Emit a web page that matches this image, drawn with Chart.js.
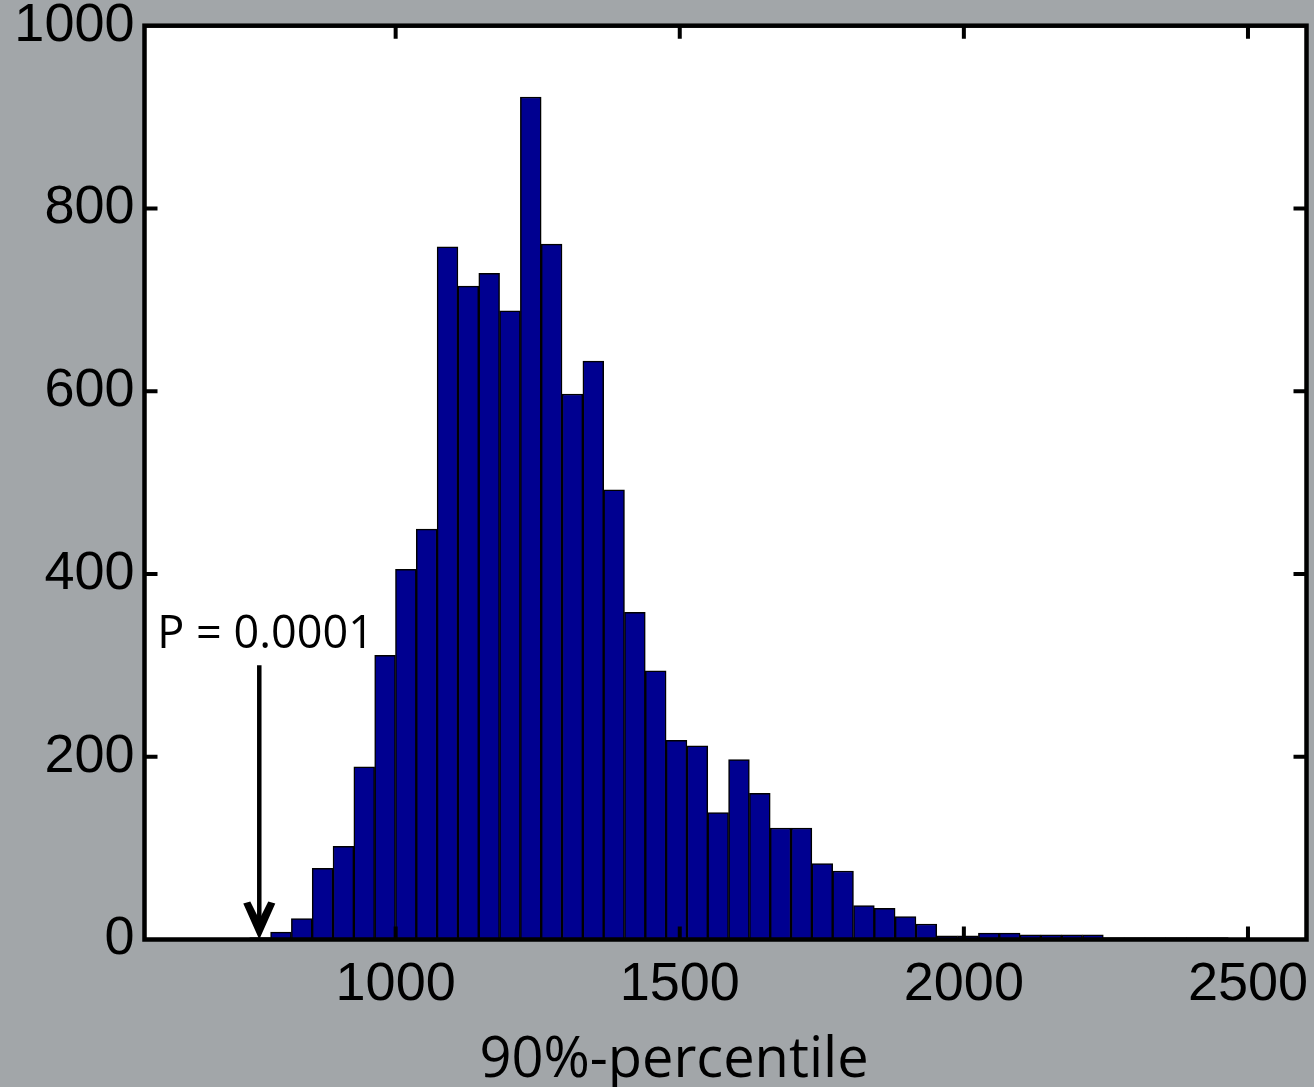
<!DOCTYPE html>
<html>
<head>
<meta charset="utf-8">
<script src="https://cdn.jsdelivr.net/npm/chart.js@4.4.0/dist/chart.umd.min.js"></script>
<style>
  html, body { margin: 0; padding: 0; background: #a2a6a9; overflow: hidden; }
  canvas { display: block; }
</style>
</head>
<body>
<canvas id="histChart" width="1314" height="1087"></canvas>
<script>
// Histogram bins: centre of each bin (90%-percentile) and its count
var binCenters = [651.6, 688.2, 724.9, 761.5, 798.2, 834.8, 871.4, 908.1, 944.7, 981.4,
                  1018.0, 1054.6, 1091.3, 1127.9, 1164.6, 1201.2, 1237.8, 1274.5, 1311.1, 1347.8,
                  1384.4, 1421.0, 1457.7, 1494.3, 1531.0, 1567.6, 1604.2, 1640.9, 1677.5, 1714.2,
                  1750.8, 1787.4, 1824.1, 1860.7, 1897.4, 1934.0, 1970.6, 2007.3, 2043.9, 2080.6,
                  2117.2, 2153.8, 2190.5, 2227.1, 2263.8, 2300.4, 2337.0, 2373.7, 2410.3, 2447.0];
var binCounts = [1, 0, 1, 2, 8, 23, 78, 102, 189, 311,
                 405, 449, 758, 715, 729, 688, 922, 761, 597, 633,
                 492, 358, 294, 218, 212, 139, 197, 160, 122, 122,
                 83, 75, 37, 34, 25, 17, 4, 4, 7, 7,
                 5, 5, 5, 5, 2, 2, 2, 2, 2, 2];

// Axes
var xTicks = [1000, 1500, 2000, 2500];
var yTicks = [0, 200, 400, 600, 800, 1000];
var xRange = [558, 2603];
var yRange = [0, 1000];
var xTitle = "90%-percentile";

// Arrow marking the observed value
var pLabel = "P = 0.0001";
var pValueX = 760;
var pArrowTop = 300;

var histData = binCenters.map(function(c, i) {
	return { x: c, y: binCounts[i] };
});

// keep Chart.js from shrinking the plot box to fit overhanging tick labels
function noOverhang(scale) {
	scale.paddingTop = 0;
	scale.paddingBottom = 0;
	scale.paddingLeft = 0;
	scale.paddingRight = 0;
}

// Draws the white plot box, inward ticks, frame, arrow and the x title
var framePlugin = {
	id: "framePlugin",
	beforeDraw: function(chart) {
		var a = chart.chartArea;
		var ctx = chart.ctx;
		ctx.save();
		ctx.fillStyle = "#ffffff";
		ctx.fillRect(a.left, a.top, a.right - a.left, a.bottom - a.top);
		ctx.restore();
	},
	afterDatasetsDraw: function(chart) {
		var a = chart.chartArea;
		var ctx = chart.ctx;
		var xs = chart.scales.x;
		var ys = chart.scales.y;
		var tickLen = 13;

		ctx.save();
		ctx.strokeStyle = "#000";
		ctx.lineWidth = 4;

		// inward ticks
		ctx.beginPath();
		xTicks.forEach(function(v) {
			var px = xs.getPixelForValue(v);
			ctx.moveTo(px, a.top); ctx.lineTo(px, a.top + tickLen);
			ctx.moveTo(px, a.bottom); ctx.lineTo(px, a.bottom - tickLen);
		});
		yTicks.slice(1, -1).forEach(function(v) {
			var py = ys.getPixelForValue(v);
			ctx.moveTo(a.left, py); ctx.lineTo(a.left + tickLen, py);
			ctx.moveTo(a.right, py); ctx.lineTo(a.right - tickLen, py);
		});
		ctx.stroke();

		// frame
		ctx.lineWidth = 4.5;
		ctx.strokeRect(a.left, a.top, a.right - a.left, a.bottom - a.top);

		// arrow
		var ax = xs.getPixelForValue(pValueX);
		var ayTop = ys.getPixelForValue(pArrowTop);
		var ayTip = ys.getPixelForValue(0);
		ctx.lineWidth = 4.5;
		ctx.beginPath();
		ctx.moveTo(ax, ayTop);
		ctx.lineTo(ax, ayTip - 14);
		ctx.stroke();
		ctx.fillStyle = "#000";
		ctx.beginPath();
		ctx.moveTo(ax, ayTip);
		ctx.lineTo(ax - 16, ayTip - 36);
		ctx.lineTo(ax - 9, ayTip - 38);
		ctx.lineTo(ax, ayTip - 20);
		ctx.lineTo(ax + 9, ayTip - 38);
		ctx.lineTo(ax + 16, ayTip - 36);
		ctx.closePath();
		ctx.fill();

		// arrow label
		ctx.font = "45px 'Open Sans'";
		ctx.textAlign = "left";
		ctx.textBaseline = "alphabetic";
		ctx.fillText(pLabel, ax - 102, ayTop - 17);

		// x axis title
		ctx.font = "56px 'Open Sans'";
		ctx.textAlign = "center";
		ctx.fillText(xTitle, 674, 1077);
		ctx.restore();
	}
};

var ctx = document.getElementById("histChart");
var histChart = new Chart(ctx, {
	type: "bar",
	data: {
		datasets: [
			{
				label: "count",
				data: histData,
				backgroundColor: "#000090",
				borderColor: "#000000",
				borderWidth: 1.5,
				barPercentage: 1.0,
				categoryPercentage: 1.0
			}
		]
	},
	options: {
		responsive: false,
		animation: false,
		layout: {
			padding: { left: 0, top: 25.7, right: 7.5, bottom: 0 }
		},
		plugins: {
			legend: { display: false },
			tooltip: { enabled: false }
		},
		scales: {
			x: {
				type: "linear",
				min: xRange[0],
				max: xRange[1],
				offset: false,
				grid: { display: false, drawTicks: false },
				border: { display: false },
				afterBuildTicks: function(scale) {
					scale.ticks = xTicks.map(function(v) { return { value: v }; });
				},
				afterFit: function(scale) {
					scale.height = 147.5;
					noOverhang(scale);
				},
				ticks: {
					padding: 19,
					autoSkip: false,
					maxRotation: 0,
					color: "#000",
					font: { family: "'Liberation Sans', Arial, sans-serif", size: 54, lineHeight: 1 },
					callback: function(v) { return String(v); }
				}
			},
			y: {
				min: yRange[0],
				max: yRange[1],
				grid: { display: false, drawTicks: false },
				border: { display: false },
				afterBuildTicks: function(scale) {
					scale.ticks = yTicks.map(function(v) { return { value: v }; });
				},
				afterFit: function(scale) {
					scale.width = 144.5;
					noOverhang(scale);
				},
				ticks: {
					padding: 10,
					color: "#000",
					font: { family: "'Liberation Sans', Arial, sans-serif", size: 54, lineHeight: 1 },
					callback: function(v) { return String(v); }
				}
			}
		}
	},
	plugins: [framePlugin]
});
</script>
</body>
</html>
